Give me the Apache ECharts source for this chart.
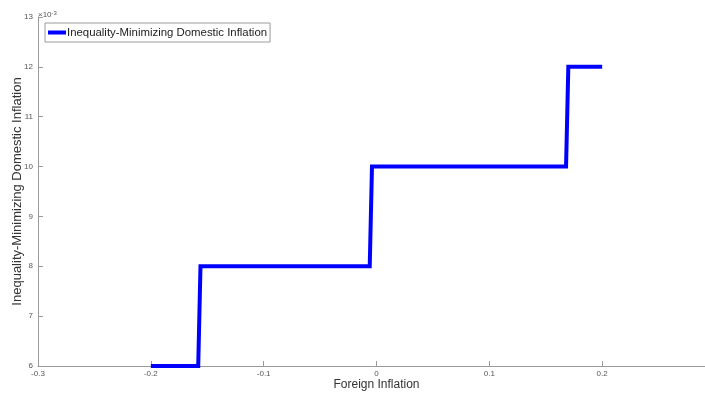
<!DOCTYPE html>
<html>
<head>
<meta charset="utf-8">
<script src="https://cdn.jsdelivr.net/npm/echarts@6/dist/echarts.min.js"></script>
<style>
  html, body { margin: 0; padding: 0; background: #fff; }
  #chart { width: 705px; height: 398px; }
</style>
</head>
<body>
<div id="chart"></div>
<script>
// Foreign inflation grid points where the optimal domestic rate changes
const foreignInflation = [-0.2, -0.158, -0.156, -0.006, -0.004, 0.168, 0.170, 0.2];
// Inequality-minimizing domestic inflation at those points
const domesticInflation = [0.006, 0.006, 0.008, 0.008, 0.010, 0.010, 0.012, 0.012];

const seriesName = 'Inequality-Minimizing Domestic Inflation';
const xName = 'Foreign Inflation';
const yName = 'Inequality-Minimizing Domestic Inflation';

const font = '"Liberation Sans", Arial, sans-serif';
const axisGray = '#9a9a9a';
const labelGray = '#555';

const chart = echarts.init(document.getElementById('chart'), null, { renderer: 'canvas' });

chart.setOption({
  animation: false,
  backgroundColor: '#fff',
  grid: { left: 38, right: -10, top: 17, bottom: 32, containLabel: false, outerBoundsMode: 'none' },
  legend: {
    left: 45,
    top: 23,
    orient: 'vertical',
    padding: [4, 3, 4, 3],
    itemGap: 0,
    itemWidth: 18,
    itemHeight: 4,
    icon: 'rect',
    borderColor: '#9a9a9a',
    borderWidth: 1,
    backgroundColor: '#fff',
    textStyle: { fontFamily: font, fontSize: 11.4, color: '#222', padding: [0, 0, 0, -4] },
    data: [seriesName]
  },
  xAxis: {
    type: 'value',
    min: -0.3,
    max: 0.3,
    interval: 0.1,
    name: xName,
    nameLocation: 'middle',
    nameGap: 13,
    nameMoveOverlap: false,
    nameTextStyle: { fontFamily: font, fontSize: 12, color: '#333', verticalAlign: 'top' },
    axisLine: { show: true, onZero: false, lineStyle: { color: axisGray, width: 1 } },
    axisTick: { show: true, inside: true, length: 5, lineStyle: { color: axisGray } },
    axisLabel: {
      fontFamily: font, fontSize: 8, color: labelGray, margin: 4,
      formatter: v => Math.abs(v) < 1e-9 ? '0' : (Math.round(v * 10) / 10).toString()
    },
    splitLine: { show: false }
  },
  yAxis: {
    type: 'value',
    min: 0.006,
    max: 0.013,
    interval: 0.001,
    name: yName,
    nameLocation: 'middle',
    nameGap: 14,
    nameMoveOverlap: false,
    nameRotate: 90,
    nameTextStyle: { fontFamily: font, fontSize: 13, color: '#333' },
    axisLine: { show: true, onZero: false, lineStyle: { color: axisGray, width: 1 } },
    axisTick: { show: true, inside: true, length: 5, lineStyle: { color: axisGray } },
    axisLabel: {
      fontFamily: font, fontSize: 8, color: labelGray, margin: 5,
      formatter: v => Math.round(v * 1000).toString()
    },
    splitLine: { show: false }
  },
  graphic: [{
    type: 'text',
    left: 38,
    top: 10,
    style: {
      text: '{m|×10}{e|-3}',
      rich: {
        m: { fontFamily: font, fontSize: 8, fill: labelGray },
        e: { fontFamily: font, fontSize: 6, fill: labelGray, verticalAlign: 'top', padding: [0, 0, 4, 0] }
      }
    }
  }],
  series: [{
    name: seriesName,
    type: 'line',
    data: foreignInflation.map((x, i) => [x, domesticInflation[i]]),
    showSymbol: false,
    symbol: 'none',
    lineStyle: { color: '#0000ff', width: 4, join: 'miter' },
    itemStyle: { color: '#0000ff' },
    clip: false
  }]
});
</script>
</body>
</html>
